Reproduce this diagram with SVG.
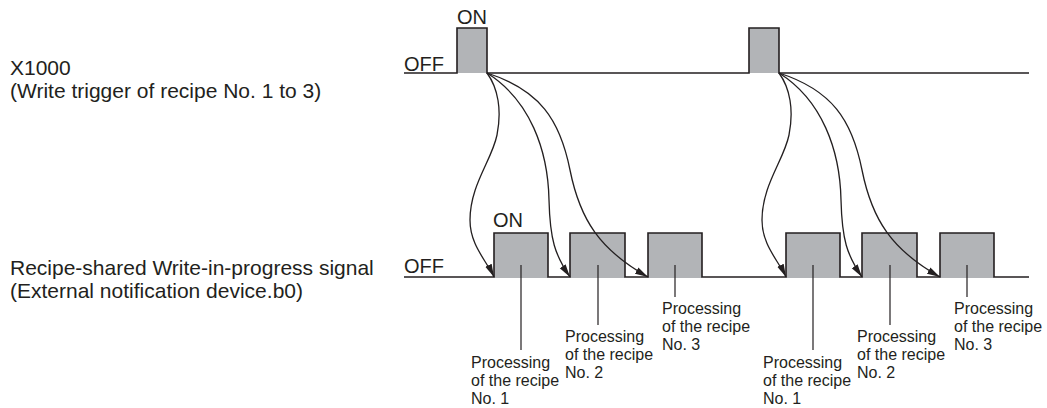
<svg xmlns="http://www.w3.org/2000/svg" width="1047" height="408" viewBox="0 0 1047 408">
<style>
text{font-family:"Liberation Sans",Arial,sans-serif;fill:#231f20}
.lbl{font-size:21px}
.st{font-size:20px}
.pl{font-size:16px}
.wave{fill:none;stroke:#231f20;stroke-width:1.6;stroke-linejoin:miter}
.pulse{fill:#b2b4b7;stroke:none}
.lead{stroke:#231f20;stroke-width:1.2}
.conn{fill:none;stroke:#231f20;stroke-width:1.3}
</style>
<defs>
<marker id="ah" markerUnits="userSpaceOnUse" markerWidth="14" markerHeight="8" refX="13" refY="4" orient="auto">
<path d="M0,0.5 L13,4 L0,7.5 Z" fill="#231f20"/>
</marker>
</defs>
<rect width="1047" height="408" fill="#ffffff"/>

<g id="signal-x1000">
<text class="lbl" x="10" y="75">X1000</text>
<text class="lbl" x="10" y="98">(Write trigger of recipe No. 1 to 3)</text>
<rect class="pulse" x="457" y="28" width="30" height="45"/>
<rect class="pulse" x="749" y="28" width="30" height="45"/>
<path class="wave" d="M404,73 H457 V28 H487 V73 H749 V28 H779 V73 H1029"/>
<text class="st" x="404" y="71">OFF</text>
<text class="st" x="457" y="24">ON</text>
</g>

<g id="signal-b0">
<text class="lbl" x="10" y="275">Recipe-shared Write-in-progress signal</text>
<text class="lbl" x="10" y="298">(External notification device.b0)</text>
<rect class="pulse" x="494" y="233" width="54" height="45"/>
<rect class="pulse" x="570" y="233" width="55" height="45"/>
<rect class="pulse" x="648" y="233" width="54" height="45"/>
<rect class="pulse" x="786" y="233" width="54" height="45"/>
<rect class="pulse" x="862" y="233" width="55" height="45"/>
<rect class="pulse" x="940" y="233" width="54" height="45"/>
<path class="wave" d="M404,277 H494 V233 H548 V277 H570 V233 H625 V277 H648 V233 H702 V277 H786 V233 H840 V277 H862 V233 H917 V277 H940 V233 H994 V277 H1029"/>
<text class="st" x="404" y="273">OFF</text>
<text class="st" x="493" y="227">ON</text>
</g>

<g id="connectors">
<g id="trigger-1">
<path class="conn" marker-end="url(#ah)" d="M487,73 C498,88 502,110 497,135 C492,160 470,185 470,220 C470,245 486,260 494,277"/>
<path class="conn" marker-end="url(#ah)" d="M487,73 C530,100 548,150 549,200 C550,240 555,255 570,277"/>
<path class="conn" marker-end="url(#ah)" d="M487,73 C540,90 560,120 570,170 C580,220 600,250 648,277"/>
</g>
<g id="trigger-2" transform="translate(292,0)">
<path class="conn" marker-end="url(#ah)" d="M487,73 C498,88 502,110 497,135 C492,160 470,185 470,220 C470,245 486,260 494,277"/>
<path class="conn" marker-end="url(#ah)" d="M487,73 C530,100 548,150 549,200 C550,240 555,255 570,277"/>
<path class="conn" marker-end="url(#ah)" d="M487,73 C540,90 560,120 570,170 C580,220 600,250 648,277"/>
</g>
</g>

<g id="label-1a">
<line class="lead" x1="521" y1="265" x2="521" y2="350"/>
<text class="pl" x="471" y="368">Processing</text>
<text class="pl" x="471" y="386">of the recipe</text>
<text class="pl" x="471" y="404">No. 1</text>
</g>
<g id="label-2a">
<line class="lead" x1="598" y1="265" x2="598" y2="325"/>
<text class="pl" x="565" y="342">Processing</text>
<text class="pl" x="565" y="360">of the recipe</text>
<text class="pl" x="565" y="378">No. 2</text>
</g>
<g id="label-3a">
<line class="lead" x1="675" y1="265" x2="675" y2="297"/>
<text class="pl" x="662" y="314">Processing</text>
<text class="pl" x="662" y="332">of the recipe</text>
<text class="pl" x="662" y="350">No. 3</text>
</g>
<g id="label-1b">
<line class="lead" x1="813" y1="265" x2="813" y2="350"/>
<text class="pl" x="763" y="368">Processing</text>
<text class="pl" x="763" y="386">of the recipe</text>
<text class="pl" x="763" y="404">No. 1</text>
</g>
<g id="label-2b">
<line class="lead" x1="890" y1="265" x2="890" y2="325"/>
<text class="pl" x="857" y="342">Processing</text>
<text class="pl" x="857" y="360">of the recipe</text>
<text class="pl" x="857" y="378">No. 2</text>
</g>
<g id="label-3b">
<line class="lead" x1="967" y1="265" x2="967" y2="297"/>
<text class="pl" x="954" y="314">Processing</text>
<text class="pl" x="954" y="332">of the recipe</text>
<text class="pl" x="954" y="350">No. 3</text>
</g>
</svg>
